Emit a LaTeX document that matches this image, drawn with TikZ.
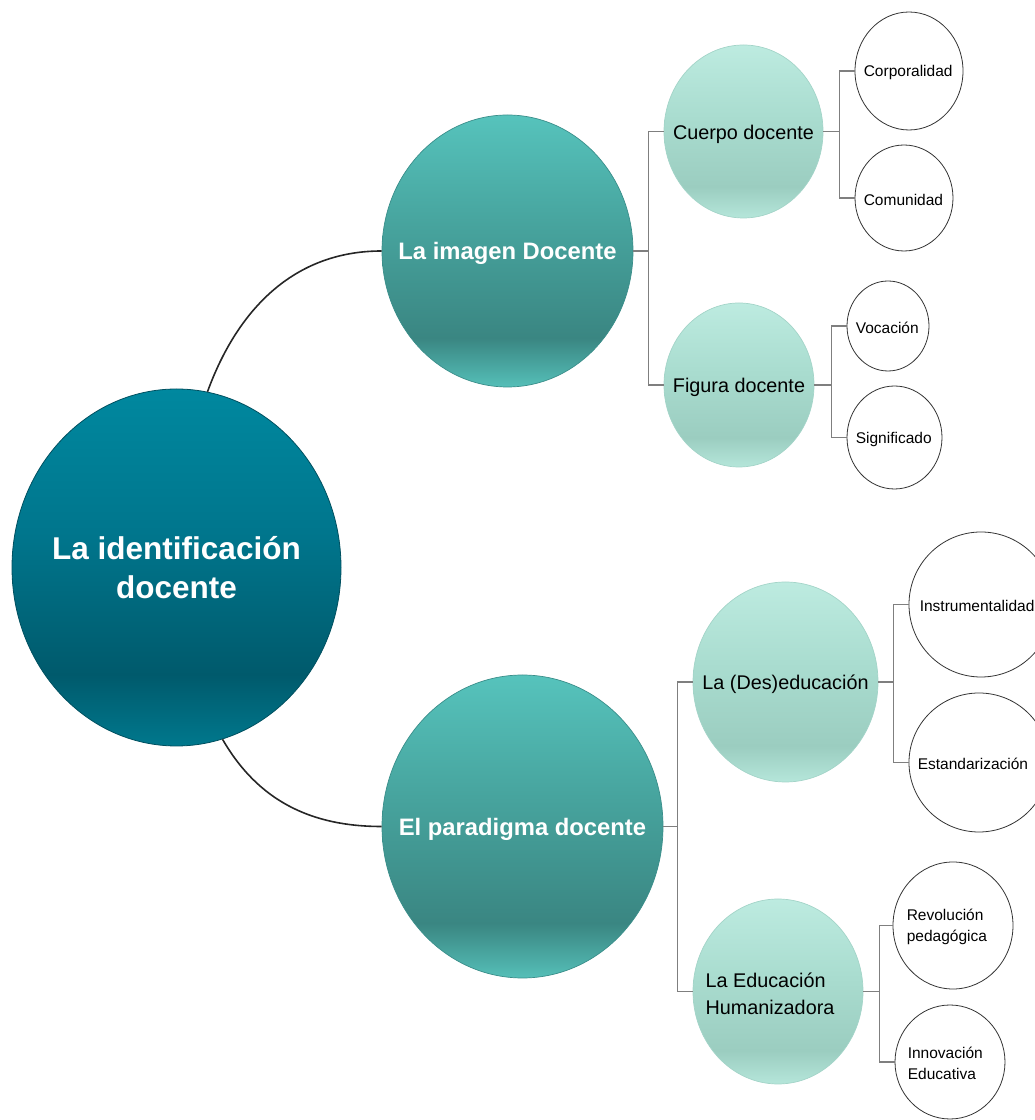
\documentclass[tikz,border=0pt]{standalone}
\usepackage{fontspec}
\setmainfont{Liberation Sans}
\usetikzlibrary{shapes.geometric}

% palette
\definecolor{rootT}{HTML}{00889F}
\definecolor{rootM}{HTML}{00768D}
\definecolor{rootD}{HTML}{005A6C}
\definecolor{rootB}{HTML}{00788D}
\definecolor{rootLine}{HTML}{005060}
\definecolor{mainT}{HTML}{56C3BC}
\definecolor{mainM}{HTML}{47A49E}
\definecolor{mainD}{HTML}{3A8682}
\definecolor{mainB}{HTML}{55BFB8}
\definecolor{mainLine}{HTML}{3A8E8A}
\definecolor{subT}{HTML}{BDEBE0}
\definecolor{subM}{HTML}{AADDD0}
\definecolor{subD}{HTML}{9BCDC0}
\definecolor{subB}{HTML}{B5E6DA}
\definecolor{subLine}{HTML}{A3D4C8}
\definecolor{elbowGray}{HTML}{7F7F7F}
\definecolor{curveInk}{HTML}{262626}

% vertical shadings: the shaded shape spans 25bp (bottom) to 75bp (top)
\pgfdeclareverticalshading{rootshade}{100bp}{color(0bp)=(rootB); color(25bp)=(rootB); color(35bp)=(rootD); color(55bp)=(rootM); color(75bp)=(rootT); color(100bp)=(rootT)}
\pgfdeclareverticalshading{mainshade}{100bp}{color(0bp)=(mainB); color(25bp)=(mainB); color(34bp)=(mainD); color(55bp)=(mainM); color(75bp)=(mainT); color(100bp)=(mainT)}
\pgfdeclareverticalshading{subshade}{100bp}{color(0bp)=(subB); color(25bp)=(subB); color(34bp)=(subD); color(55bp)=(subM); color(75bp)=(subT); color(100bp)=(subT)}

\tikzset{
  rootbubble/.style={ellipse, inner sep=0pt, shading=rootshade, draw=rootLine, line width=0.8pt},
  mainbubble/.style={ellipse, inner sep=0pt, shading=mainshade, draw=mainLine, line width=0.7pt},
  subbubble/.style={ellipse, inner sep=0pt, shading=subshade, draw=subLine, line width=0.7pt},
  leafbubble/.style={ellipse, inner sep=0pt, fill=white, draw=black!80, line width=0.8pt},
  roottext/.style={inner sep=0pt, text=white, align=center, font=\fontsize{31.5}{39}\selectfont\bfseries},
  maintext/.style={inner sep=0pt, yshift=-2.5pt, text=white, font=\fontsize{23.8}{28}\selectfont\bfseries},
  subtext/.style={inner sep=0pt, yshift=-2.5pt, text=black, align=left, font=\fontsize{19.8}{27}\selectfont},
  leaftext/.style={anchor=west, inner sep=0pt, xshift=9pt, yshift=-1.5pt, text=black, align=left, font=\fontsize{15.5}{20.5}\selectfont},
  branch/.style={draw=curveInk, line width=1.6pt},
  elbow/.style={draw=elbowGray, line width=1.1pt}
}

\begin{document}
\begin{tikzpicture}[x=1pt,y=1pt]
\useasboundingbox (0,0) rectangle (1035,1120);

% central idea
\node[rootbubble, minimum width=329pt, minimum height=357pt,
      label={[roottext]center:La identificación\\docente}] (root) at (176.5,552.5) {};

% main branches
\node[mainbubble, minimum width=251pt, minimum height=272pt,
      label={[maintext]center:La imagen Docente}] (img) at (507.5,869) {};
\node[mainbubble, minimum width=281pt, minimum height=303pt,
      label={[maintext]center:El paradigma docente}] (par) at (522.5,293.5) {};

% second level
\node[subbubble, minimum width=159pt, minimum height=173pt,
      label={[subtext]center:Cuerpo docente}] (cuerpo) at (743.5,988.5) {};
\node[subbubble, minimum width=150pt, minimum height=164pt,
      label={[subtext]center:Figura docente}] (figura) at (739,735) {};
\node[subbubble, minimum width=185pt, minimum height=200pt,
      label={[subtext]center:La (Des)educación}] (des) at (785.5,438) {};
\node[subbubble, minimum width=170pt, minimum height=185pt,
      label={[subtext, xshift=-8pt]center:La Educación\\Humanizadora}] (hum) at (778,128.5) {};

% leaves
\node[leafbubble, minimum width=108pt, minimum height=118pt,
      label={[leaftext]west:Corporalidad}] (corp) at (909,1049) {};
\node[leafbubble, minimum width=98pt, minimum height=106pt,
      label={[leaftext]west:Comunidad}] (comu) at (904,922) {};
\node[leafbubble, minimum width=82pt, minimum height=90pt,
      label={[leaftext]west:Vocación}] (voc) at (888,794) {};
\node[leafbubble, minimum width=95pt, minimum height=103pt,
      label={[leaftext]west:Significado}] (sig) at (894.5,682.5) {};
\node[leafbubble, minimum width=144pt, minimum height=145pt,
      label={[leaftext, xshift=2pt]west:Instrumentalidad}] (ins) at (981,515.5) {};
\node[leafbubble, minimum width=140pt, minimum height=139pt,
      label={[leaftext]west:Estandarización}] (est) at (979,357.5) {};
\node[leafbubble, minimum width=120pt, minimum height=127pt,
      label={[leaftext, xshift=5pt]west:Revolución\\pedagógica}] (rev) at (953,194.5) {};
\node[leafbubble, minimum width=110pt, minimum height=114pt,
      label={[leaftext, xshift=4pt]west:Innovación\\Educativa}] (inn) at (950,58) {};

% curved branches from the centre
\draw[branch] (root.80.6) to[out=70,in=180] (img.west);
\draw[branch] (root.-75.2) to[out=-60,in=180] (par.west);

% elbow connectors
\draw[elbow] (img.east) -- ++(15,0) |- (cuerpo.west);
\draw[elbow] (img.east) -- ++(15,0) |- (figura.west);
\draw[elbow] (par.east) -- ++(14,0) |- (des.west);
\draw[elbow] (par.east) -- ++(14,0) |- (hum.west);
\draw[elbow] (cuerpo.east) -- ++(16,0) |- (corp.west);
\draw[elbow] (cuerpo.east) -- ++(16,0) |- (comu.west);
\draw[elbow] (figura.east) -- ++(17,0) |- (voc.west);
\draw[elbow] (figura.east) -- ++(17,0) |- (sig.west);
\draw[elbow] (des.east) -- ++(15,0) |- (ins.west);
\draw[elbow] (des.east) -- ++(15,0) |- (est.west);
\draw[elbow] (hum.east) -- ++(16,0) |- (rev.west);
\draw[elbow] (hum.east) -- ++(16,0) |- (inn.west);
\end{tikzpicture}
\end{document}
